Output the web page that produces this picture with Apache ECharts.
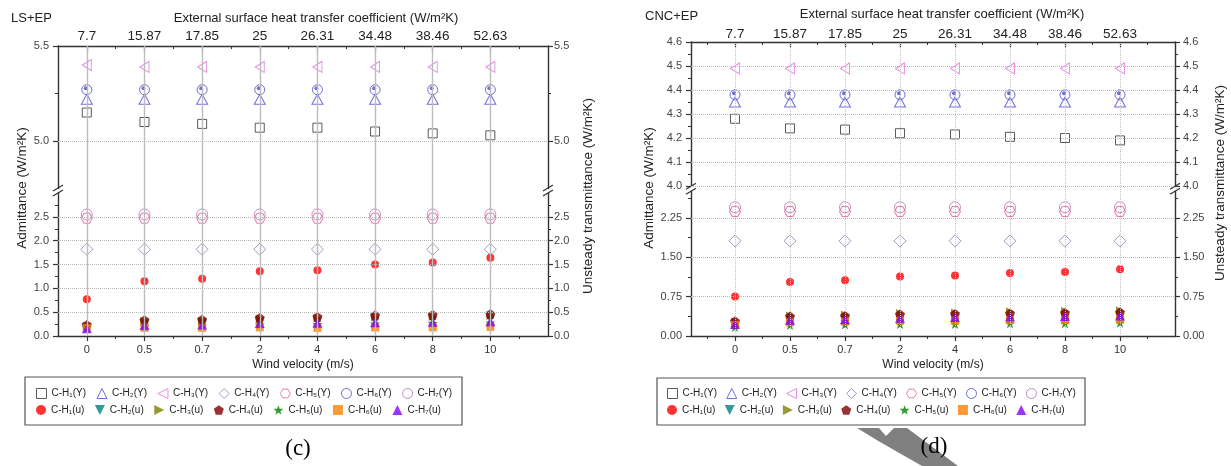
<!DOCTYPE html>
<html><head><meta charset="utf-8">
<script src="https://cdn.jsdelivr.net/npm/echarts@6/dist/echarts.min.js"></script>
<style>html,body{margin:0;padding:0;background:#fff}#chart{width:1231px;height:466px}</style>
</head><body><div id="chart"></div>
<script>
// ---------- DATA ----------
const windVelocity = ['0', '0.5', '0.7', '2', '4', '6', '8', '10'];
const heatCoeff = ['7.7', '15.87', '17.85', '25', '26.31', '34.48', '38.46', '52.63'];
const seriesLabels = ['C-H₁(Y)', 'C-H₂(Y)', 'C-H₃(Y)', 'C-H₄(Y)', 'C-H₅(Y)', 'C-H₆(Y)', 'C-H₇(Y)',
                      'C-H₁(u)', 'C-H₂(u)', 'C-H₃(u)', 'C-H₄(u)', 'C-H₅(u)', 'C-H₆(u)', 'C-H₇(u)'];

// panel (c) LS+EP
const c_H1Y = [5.15, 5.10, 5.09, 5.07, 5.07, 5.05, 5.04, 5.03];
const c_H2Y = [5.22, 5.22, 5.22, 5.22, 5.22, 5.22, 5.22, 5.22];
const c_H3Y = [5.40, 5.39, 5.39, 5.39, 5.39, 5.39, 5.39, 5.39];
const c_H4Y = [1.82, 1.82, 1.82, 1.82, 1.82, 1.82, 1.82, 1.82];
const c_H5Y = [2.47, 2.47, 2.47, 2.47, 2.47, 2.47, 2.47, 2.47];
const c_H6Y = [5.27, 5.27, 5.27, 5.27, 5.27, 5.27, 5.27, 5.27];
const c_H7Y = [2.55, 2.55, 2.55, 2.55, 2.55, 2.55, 2.55, 2.55];
const c_H1u = [0.77, 1.15, 1.20, 1.36, 1.38, 1.50, 1.54, 1.64];
const c_H2u = [0.19, 0.27, 0.28, 0.31, 0.32, 0.33, 0.34, 0.35];
const c_H3u = [0.21, 0.31, 0.32, 0.36, 0.38, 0.40, 0.41, 0.43];
const c_H4u = [0.23, 0.33, 0.34, 0.38, 0.40, 0.43, 0.44, 0.46];
const c_H5u = [0.17, 0.21, 0.22, 0.24, 0.25, 0.26, 0.27, 0.28];
const c_H6u = [0.17, 0.17, 0.17, 0.18, 0.17, 0.18, 0.18, 0.19];
const c_H7u = [0.15, 0.22, 0.23, 0.26, 0.27, 0.28, 0.29, 0.30];

// panel (d) CNC+EP
const d_H1Y = [4.28, 4.24, 4.235, 4.22, 4.215, 4.205, 4.20, 4.19];
const d_H2Y = [4.35, 4.35, 4.35, 4.35, 4.35, 4.35, 4.35, 4.35];
const d_H3Y = [4.49, 4.49, 4.49, 4.49, 4.49, 4.49, 4.49, 4.49];
const d_H4Y = [1.81, 1.81, 1.81, 1.81, 1.81, 1.81, 1.81, 1.81];
const d_H5Y = [2.37, 2.37, 2.37, 2.37, 2.37, 2.37, 2.37, 2.37];
const d_H6Y = [4.38, 4.38, 4.38, 4.38, 4.38, 4.38, 4.38, 4.38];
const d_H7Y = [2.45, 2.45, 2.45, 2.45, 2.45, 2.45, 2.45, 2.45];
const d_H1u = [0.75, 1.03, 1.06, 1.13, 1.15, 1.20, 1.22, 1.27];
const d_H2u = [0.18, 0.22, 0.23, 0.25, 0.26, 0.27, 0.27, 0.28];
const d_H3u = [0.27, 0.38, 0.40, 0.43, 0.44, 0.46, 0.47, 0.48];
const d_H4u = [0.28, 0.37, 0.38, 0.41, 0.42, 0.43, 0.44, 0.45];
const d_H5u = [0.17, 0.21, 0.22, 0.23, 0.23, 0.24, 0.24, 0.25];
const d_H6u = [0.21, 0.26, 0.27, 0.29, 0.29, 0.30, 0.30, 0.31];
const d_H7u = [0.22, 0.30, 0.31, 0.34, 0.35, 0.36, 0.37, 0.38];

// tick labels
const cUpperTicks = [5.0, 5.5];
const cLowerTicks = [0, 0.5, 1.0, 1.5, 2.0, 2.5];
const dUpperTicks = [4.0, 4.1, 4.2, 4.3, 4.4, 4.5, 4.6];
const dLowerTicks = [0, 0.75, 1.5, 2.25];

// ---------- STYLE ----------
const FONT = 'Liberation Sans, Arial, sans-serif';
const AX = '#333';
const keys = ['H1Y','H2Y','H3Y','H4Y','H5Y','H6Y','H7Y','H1u','H2u','H3u','H4u','H5u','H6u','H7u'];
const upperKeys = ['H1Y','H2Y','H3Y','H6Y'];
const P_LTRI = 'path://M0,5 L10,0 L10,10 Z';
const P_DTRI = 'path://M0,0 L10,0 L5,10 Z';
const P_RTRI = 'path://M0,0 L10,5 L0,10 Z';
const P_HEX = 'path://M2.5,0.67 L7.5,0.67 L10,5 L7.5,9.33 L2.5,9.33 L0,5 Z';
const P_PENT = 'path://M5,0 L9.76,3.45 L7.94,9.05 L2.06,9.05 L0.24,3.45 Z';
const P_STAR = 'path://M5,0 L6.18,3.38 L9.76,3.45 L6.9,5.62 L7.94,9.05 L5,7 L2.06,9.05 L3.1,5.62 L0.24,3.45 L3.82,3.38 Z';
const styles = {
  H1Y: {symbol: 'rect', size: 9, color: '#333333', open: true},
  H2Y: {symbol: 'triangle', size: [11, 10], color: '#4b4bd6', open: true},
  H3Y: {symbol: P_LTRI, size: [9, 11], color: '#e070e0', open: true},
  H4Y: {symbol: 'diamond', size: [12, 12], color: '#8585b5', open: true},
  H5Y: {symbol: P_HEX, size: [11, 10], color: '#e0609f', open: true},
  H6Y: {symbol: 'circle', size: 10, color: '#4a4ac0', open: true},
  H7Y: {symbol: 'circle', size: 11, color: '#b070b0', open: true},
  H1u: {symbol: 'circle', size: 8, color: '#ff0000'},
  H2u: {symbol: P_DTRI, size: [9, 8], color: '#008080'},
  H3u: {symbol: P_RTRI, size: [8, 9], color: '#808000'},
  H4u: {symbol: P_PENT, size: 10, color: '#800000'},
  H5u: {symbol: P_STAR, size: 10, color: '#008000'},
  H6u: {symbol: 'rect', size: 8, color: '#ff8000'},
  H7u: {symbol: 'triangle', size: [10, 9], color: '#8000ff'}
};

const panelC = {
  data: {H1Y: c_H1Y, H2Y: c_H2Y, H3Y: c_H3Y, H4Y: c_H4Y, H5Y: c_H5Y, H6Y: c_H6Y, H7Y: c_H7Y,
         H1u: c_H1u, H2u: c_H2u, H3u: c_H3u, H4u: c_H4u, H5u: c_H5u, H6u: c_H6u, H7u: c_H7u},
  x0: 58, x1: 548, top: 46, uBottom: 188.5, lTop: 193, bottom: 336,
  xMin: -0.5, xMax: 8,
  upper: {min: 4.75, max: 5.5, ticks: cUpperTicks, dec: 1},
  lower: {min: 0, max: 3.0, ticks: cLowerTicks, dec: 1},
  vLine: {type: 'solid', color: '#bcbcbc', width: 1.4},
  titleShift: 26, topMargin: 3, titleGap: 21, lMargin: 9, rMargin: 6,
  legendLeft: 36, legendGap: 10.5, legendBox: [25, 377, 437, 48],
  name: 'LS+EP', nameXY: [11, 18], letter: '(c)', letterXY: [298, 449],
  yNameL: [22, 188], yNameR: [588, 196],
  breakL: [58, 190.5], breakR: [548, 190.5]
};
const panelD = {
  data: {H1Y: d_H1Y, H2Y: d_H2Y, H3Y: d_H3Y, H4Y: d_H4Y, H5Y: d_H5Y, H6Y: d_H6Y, H7Y: d_H7Y,
         H1u: d_H1u, H2u: d_H2u, H3u: d_H3u, H4u: d_H4u, H5u: d_H5u, H6u: d_H6u, H7u: d_H7u},
  x0: 691, x1: 1175, top: 42, uBottom: 186, lTop: 191.5, bottom: 336,
  xMin: -0.8, xMax: 8,
  upper: {min: 4.0, max: 4.6, ticks: dUpperTicks, dec: 1},
  lower: {min: 0, max: 2.75, ticks: dLowerTicks, dec: 2},
  vLine: {type: 'dotted', color: '#c4c4c4', width: 1},
  titleShift: 18, topMargin: 1, titleGap: 21, lMargin: 9, rMargin: 8,
  legendLeft: 667, legendGap: 9.3, legendBox: [657, 378, 428, 47],
  name: 'CNC+EP', nameXY: [645, 16], letter: '(d)', letterXY: [934, 447],
  yNameL: [649, 188], yNameR: [1220, 183],
  breakL: [691, 188.8], breakR: [1175, 188.8]
};

const option = {
  animation: false,
  textStyle: {fontFamily: FONT},
  grid: [], xAxis: [], yAxis: [], series: [], legend: [], graphic: []
};

function minorsOf(ticks, min, max) {
  const step = ticks[1] - ticks[0];
  const out = [];
  for (let v = ticks[0] - step / 2; v < max + 1e-9; v += step) {
    if (v > min + 1e-9 && v < max - 1e-9) out.push(+v.toFixed(4));
  }
  return out;
}

function addPanel(P) {
  const g0 = option.grid.length;
  const w = P.x1 - P.x0;
  [[P.top, P.uBottom], [P.lTop, P.bottom], [P.top, P.uBottom], [P.lTop, P.bottom], [P.top, P.bottom]]
    .forEach(r => option.grid.push({left: P.x0, top: r[0], width: w, height: r[1] - r[0], containLabel: false, outerBoundsMode: 'none'}));
  const idx = windVelocity.map((_, i) => i);
  const halves = [];
  for (let i = -1; i < windVelocity.length; i++) { const h = i + 0.5; if (h > P.xMin && h < P.xMax) halves.push(h); }
  const xb = {type: 'value', min: P.xMin, max: P.xMax, splitLine: {show: false}};
  const axLine = {onZero: false, lineStyle: {color: AX, width: 1.4}};
  const noLine = {show: false, onZero: false};
  const xi = option.xAxis.length;
  option.xAxis.push(
    Object.assign({}, xb, {gridIndex: g0, position: 'top', axisLine: axLine,
      axisTick: {customValues: idx, length: 5, inside: true, lineStyle: {color: AX, width: 1.2}},
      axisLabel: {customValues: idx, formatter: v => heatCoeff[Math.round(v)], fontSize: 13.5, color: '#222', margin: P.topMargin, fontFamily: FONT},
      name: 'External surface heat transfer coefficient (W/m²K)', nameLocation: 'middle', nameGap: P.titleGap,
      nameTextStyle: {fontSize: 13, color: '#222', fontFamily: FONT, padding: [0, 0, 0, P.titleShift]}}),
    Object.assign({}, xb, {gridIndex: g0 + 1, position: 'bottom', axisLine: axLine,
      axisTick: {customValues: idx, length: 5, lineStyle: {color: AX, width: 1.2}},
      axisLabel: {customValues: idx, formatter: v => windVelocity[Math.round(v)], fontSize: 11, color: '#333', margin: 8, fontFamily: FONT},
      name: 'Wind velocity (m/s)', nameLocation: 'middle', nameGap: 23,
      nameTextStyle: {fontSize: 12, color: '#222', fontFamily: FONT}}),
    Object.assign({}, xb, {gridIndex: g0 + 2, position: 'top', axisLine: noLine,
      axisTick: {customValues: halves, length: 3, inside: true, lineStyle: {color: AX}}, axisLabel: {show: false}}),
    Object.assign({}, xb, {gridIndex: g0 + 3, position: 'bottom', axisLine: noLine,
      axisTick: {customValues: halves, length: 3, lineStyle: {color: AX}}, axisLabel: {show: false}}),
    Object.assign({}, xb, {gridIndex: g0 + 4, show: false, axisLine: noLine})
  );
  const yi = option.yAxis.length;
  const mkY = (grid, pos, seg, margin) => ({
    type: 'value', gridIndex: grid, position: pos, min: seg.min, max: seg.max, splitLine: {show: false},
    axisLine: {show: true, onZero: false, lineStyle: {color: AX, width: 1.4}},
    axisTick: {show: true, customValues: seg.ticks, length: 5, lineStyle: {color: AX, width: 1.2}},
    axisLabel: {customValues: seg.ticks, formatter: v => v.toFixed(seg.dec), fontSize: 11, color: '#444', margin: margin, fontFamily: FONT}
  });
  const mkYm = (grid, pos, seg) => ({
    type: 'value', gridIndex: grid, position: pos, min: seg.min, max: seg.max, splitLine: {show: false},
    axisLine: noLine, axisLabel: {show: false},
    axisTick: {show: true, customValues: minorsOf(seg.ticks, seg.min, seg.max), length: 3, lineStyle: {color: AX}}
  });
  option.yAxis.push(
    mkY(g0, 'left', P.upper, P.lMargin), mkY(g0, 'right', P.upper, P.rMargin),
    mkY(g0 + 1, 'left', P.lower, P.lMargin), mkY(g0 + 1, 'right', P.lower, P.rMargin),
    mkYm(g0 + 2, 'left', P.upper), mkYm(g0 + 2, 'right', P.upper),
    mkYm(g0 + 3, 'left', P.lower), mkYm(g0 + 3, 'right', P.lower),
    {type: 'value', gridIndex: g0 + 4, min: 0, max: 1, show: false, axisLine: noLine}
  );
  // grid lines (markLines through the axes)
  const hl = {type: 'dotted', color: '#b8b8b8', width: 1};
  const mlBase = {silent: true, symbol: ['none', 'none'], label: {show: false}, emphasis: {disabled: true}, animation: false};
  option.series.push(
    {type: 'line', name: 'gridU', xAxisIndex: xi, yAxisIndex: yi, data: [], z: 1,
     markLine: Object.assign({}, mlBase, {lineStyle: hl, data: P.upper.ticks.filter(v => v < P.upper.max - 1e-9).map(v => ({yAxis: v}))})},
    {type: 'line', name: 'gridL', xAxisIndex: xi + 1, yAxisIndex: yi + 2, data: [], z: 1,
     markLine: Object.assign({}, mlBase, {lineStyle: hl, data: P.lower.ticks.filter(v => v > 0 && v < P.lower.max - 1e-9).map(v => ({yAxis: v}))})},
    {type: 'line', name: 'gridV', xAxisIndex: xi + 4, yAxisIndex: yi + 8, data: [], z: 1,
     markLine: Object.assign({}, mlBase, {lineStyle: P.vLine, data: idx.map(i => ({xAxis: i}))})}
  );
  keys.forEach((k, n) => {
    const st = styles[k];
    const up = upperKeys.includes(k);
    const s = {
      type: 'scatter', name: seriesLabels[n], xAxisIndex: up ? xi : xi + 1, yAxisIndex: up ? yi : yi + 2,
      data: P.data[k].map((v, i) => [i, v]), symbol: st.symbol, symbolSize: st.size, symbolKeepAspect: false,
      itemStyle: st.open ? {color: 'rgba(255,255,255,0)', borderColor: st.color, borderWidth: 1} : {color: st.color, borderWidth: 0},
      z: 3, silent: true, emphasis: {disabled: true}
    };
    option.series.push(s);
    if (k === 'H6Y') {
      option.series.push({type: 'scatter', name: 'dotH6', xAxisIndex: s.xAxisIndex, yAxisIndex: s.yAxisIndex,
        data: s.data, symbol: 'circle', symbolSize: 4, symbolOffset: [-1, -1.5],
        itemStyle: {color: st.color}, z: 4, silent: true});
    }
  });
  // legends
  const lg = {left: P.legendLeft, orient: 'horizontal', padding: 0, itemWidth: 10, itemHeight: 10, itemGap: P.legendGap,
              itemStyle: {borderWidth: 1},
              textStyle: {fontSize: 10, color: '#222', fontFamily: FONT}, selectedMode: false};
  option.legend.push(Object.assign({}, lg, {top: 388, data: seriesLabels.slice(0, 7)}));
  option.legend.push(Object.assign({}, lg, {top: 405, data: seriesLabels.slice(7)}));
  const B = P.legendBox;
  option.graphic.push(
    {type: 'rect', shape: {x: B[0], y: B[1], width: B[2], height: B[3]}, style: {fill: 'none', stroke: '#555', lineWidth: 1.2}, silent: true},
    {type: 'text', x: P.nameXY[0], y: P.nameXY[1], style: {text: P.name, font: '13px ' + FONT, fill: '#222', verticalAlign: 'middle'}},
    {type: 'text', x: P.letterXY[0], y: P.letterXY[1], style: {text: P.letter, font: '23px Liberation Serif, Times New Roman, serif', fill: '#000', align: 'center', verticalAlign: 'middle'}, z: 10},
    {type: 'text', x: P.yNameL[0], y: P.yNameL[1], rotation: Math.PI / 2, style: {text: 'Admittance (W/m²K)', font: '13.5px ' + FONT, fill: '#222', align: 'center', verticalAlign: 'middle'}},
    {type: 'text', x: P.yNameR[0], y: P.yNameR[1], rotation: Math.PI / 2, style: {text: 'Unsteady transmittance (W/m²K)', font: '13.5px ' + FONT, fill: '#222', align: 'center', verticalAlign: 'middle'}}
  );
  [P.breakL, P.breakR].forEach(b => {
    option.graphic.push(
      {type: 'line', shape: {x1: b[0] - 5, y1: b[1] + 0.5, x2: b[0] + 5, y2: b[1] - 5.5}, style: {stroke: AX, lineWidth: 1.3}},
      {type: 'line', shape: {x1: b[0] - 5, y1: b[1] + 5.5, x2: b[0] + 5, y2: b[1] - 0.5}, style: {stroke: AX, lineWidth: 1.3}}
    );
  });
}

addPanel(panelC);
addPanel(panelD);

// stray grey arrow shape overlapping the (d) label in the source image
option.graphic.push({type: 'polygon', shape: {points: [[857, 428], [879, 428], [886, 436], [894, 428], [907, 428], [958, 466], [922, 466], [880, 442]]},
  style: {fill: '#808080'}, z: 5, silent: true});

const chart = echarts.init(document.getElementById('chart'), null, {renderer: 'canvas'});
chart.setOption(option);
</script></body></html>
